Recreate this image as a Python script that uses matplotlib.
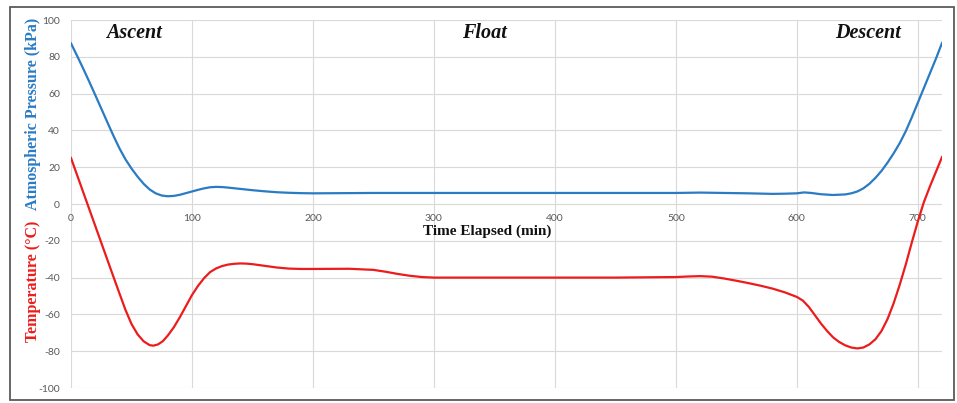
#!/usr/bin/env python3
# Balloon flight profile: pressure and temperature vs elapsed time

import matplotlib
matplotlib.use('Agg')
import matplotlib.pyplot as plt
from matplotlib.patches import Rectangle

plt.rcParams['axes.unicode_minus'] = False

### Data
p_time = [0, 5, 10, 15, 20, 25, 30, 35, 40, 45, 50, 55, 60, 65, 70, 75, 80, 85, 90, 95, 100,
          105, 110, 115, 120, 125, 130, 140, 150, 160, 170, 180, 190, 200, 250, 300, 350, 400,
          450, 500, 520, 540, 560, 580, 590, 600, 606, 612, 620, 630, 640, 645, 650, 655, 660,
          665, 670, 675, 680, 685, 690, 695, 700, 705, 710, 715, 720]
pressure_kpa = [87.3, 80.6, 73.7, 66.6, 59.3, 51.9, 44.5, 37.2, 30.3, 24.3, 19.3, 14.9, 11.0,
                7.9, 5.8, 4.6, 4.2, 4.4, 5.0, 5.9, 6.8, 7.7, 8.5, 9.1, 9.3, 9.2, 8.9, 8.2, 7.5,
                6.9, 6.4, 6.1, 5.9, 5.8, 6.0, 6.0, 6.0, 6.0, 6.0, 6.0, 6.2, 6.0, 5.8, 5.5, 5.6,
                5.8, 6.3, 6.0, 5.3, 4.9, 5.2, 5.8, 6.8, 8.5, 11, 14.2, 18, 22.5, 27.5, 33, 39.5,
                47, 55, 63, 71, 79, 87.5]

t_time = [0, 5, 10, 15, 20, 25, 30, 35, 40, 45, 50, 55, 60, 65, 68, 72, 76, 80, 85, 90, 95,
          100, 105, 110, 115, 120, 125, 130, 135, 140, 145, 150, 160, 170, 180, 190, 200, 230,
          250, 260, 270, 280, 290, 300, 350, 400, 450, 500, 510, 520, 530, 540, 550, 560, 570,
          580, 590, 600, 605, 610, 615, 620, 625, 630, 635, 640, 645, 650, 655, 660, 665, 670,
          675, 680, 685, 690, 695, 700, 705, 710, 715, 720]
temperature_c = [25, 15.8, 6.6, -2.6, -11.8, -21, -30.2, -39.4, -48.5, -57.5, -65.2, -70.8,
                 -74.6, -76.7, -77, -76.3, -74.5, -71.5, -67, -61.5, -55.5, -49.5, -44.5,
                 -40.3, -37, -35, -33.7, -32.9, -32.5, -32.3, -32.4, -32.7, -33.6, -34.5, -35.1,
                 -35.3, -35.3, -35.2, -35.8, -36.8, -38, -39, -39.7, -40, -40, -40, -40, -39.7,
                 -39.4, -39.2, -39.5, -40.5, -41.7, -43, -44.4, -46, -48, -50.5, -52.5, -56,
                 -60.5, -65, -69, -72.5, -75, -76.8, -78, -78.5, -78, -76.3, -73.5, -69, -62.5,
                 -54, -44, -33, -21, -9.5, 1, 9.5, 17.5, 25.5]

x_ticks = list(range(0, 701, 100))
y_ticks = list(range(-100, 101, 20))
phases = ['Ascent', 'Float', 'Descent']
phase_x = [52, 342, 659]
phase_y = 93

blue = '#2a7bc4'
red = '#ec1c1c'
serif = 'Liberation Serif'

fig = plt.figure(figsize=(9.57, 4.03), dpi=100)
ax = fig.add_axes([71 / 957, 15 / 403, 871 / 957, 368 / 403])

ax.plot(p_time, pressure_kpa, color=blue, lw=1.6, zorder=3)
ax.plot(t_time, temperature_c, color=red, lw=1.6, zorder=3)

ax.set_xlim(0, 720)
ax.set_ylim(-100, 100)
ax.set_xticks(x_ticks)
ax.set_yticks(y_ticks)
ax.grid(True, color='#d9d9d9', lw=0.8, zorder=0)
for s in ['top', 'right', 'left']:
    ax.spines[s].set_visible(False)
ax.spines['bottom'].set_position(('data', 0))
ax.spines['bottom'].set_visible(False)
ax.tick_params(axis='both', length=0, labelsize=7.5, labelcolor='#595959')
ax.tick_params(axis='x', pad=7)
ax.tick_params(axis='y', pad=8)
for lbl in ax.get_xticklabels() + ax.get_yticklabels():
    lbl.set_fontfamily('Lato')

for name, px in zip(phases, phase_x):
    ax.text(px, phase_y, name, ha='center', va='center', fontsize=14.5,
            fontweight='bold', fontstyle='italic', family=serif, color='#111111')

fig.text(487 / 957, 1 - 231 / 403, 'Time Elapsed (min)', ha='center', va='center',
         fontsize=11, fontweight='bold', family=serif, color='#111111')
fig.text(33 / 957, 1 - 114 / 403, 'Atmospheric Pressure (kPa)', rotation=90, ha='center',
         va='center', fontsize=11.5, fontweight='bold', family=serif, color=blue)
fig.text(33 / 957, 1 - 281 / 403, 'Temperature (°C)', rotation=90, ha='center',
         va='center', fontsize=11.5, fontweight='bold', family=serif, color=red)

### Outer frame
fig.patches.append(Rectangle((10 / 957, 3 / 403), 944 / 957, 393 / 403, transform=fig.transFigure,
                             fill=False, edgecolor='#5a5a5a', lw=1.3))

fig.savefig('out.png', dpi=100)
